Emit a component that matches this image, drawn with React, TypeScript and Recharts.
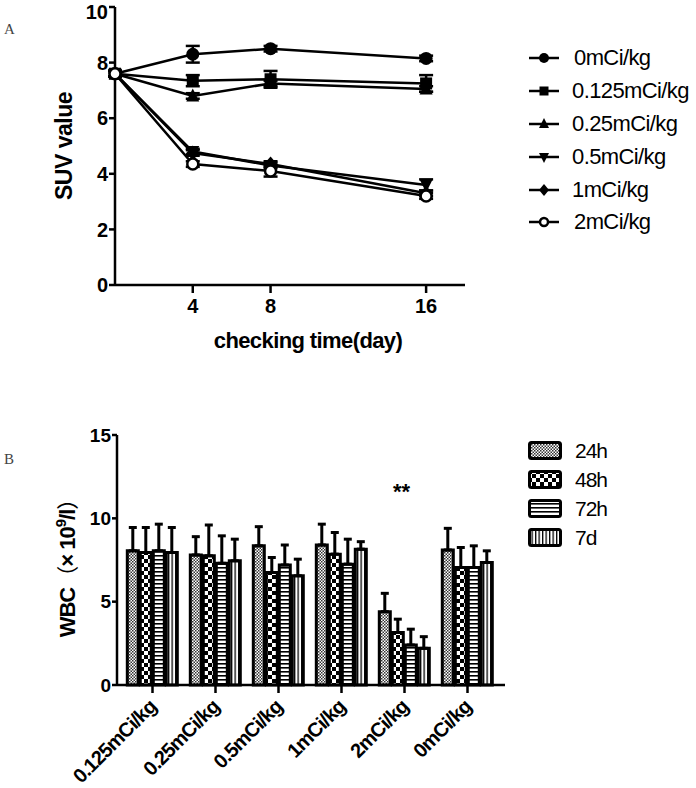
import React from "react";
import {
  LineChart,
  Line,
  XAxis,
  YAxis,
  ErrorBar,
  Legend,
  BarChart,
  Bar,
  ReferenceDot,
} from "recharts";

const FONT = '"Liberation Sans", Arial, sans-serif';

// panel A: SUV over time
const days = [0, 4, 8, 16];
const doseLabels = ["0mCi/kg", "0.125mCi/kg", "0.25mCi/kg", "0.5mCi/kg", "1mCi/kg", "2mCi/kg"];
const doseShapes = ["circle", "square", "triangle", "triangleDown", "diamond", "openCircle"];
const suv0 = [7.6, 8.3, 8.5, 8.15];
const suv0125 = [7.6, 7.35, 7.4, 7.25];
const suv025 = [7.6, 6.8, 7.25, 7.05];
const suv05 = [7.6, 4.8, 4.3, 3.6];
const suv1 = [7.6, 4.75, 4.35, 3.3];
const suv2 = [7.6, 4.35, 4.1, 3.2];
const err0 = [0.1, 0.3, 0.1, 0.1];
const err0125 = [0.1, 0.2, 0.3, 0.3];
const err025 = [0.1, 0.1, 0.1, 0.1];
const err05 = [0.1, 0.1, 0.1, 0.2];
const err1 = [0.1, 0.1, 0.1, 0.1];
const err2 = [0.1, 0.1, 0.2, 0.1];

const suvSeries = [suv0, suv0125, suv025, suv05, suv1, suv2];
const suvErrors = [err0, err0125, err025, err05, err1, err2];

const lineData = days.map((d, i) => {
  const row: Record<string, number> = { day: d };
  suvSeries.forEach((s, k) => {
    row[`s${k}`] = s[i];
    row[`e${k}`] = suvErrors[k][i];
  });
  return row;
});

// panel B: WBC per dose group
const groups = ["0.125mCi/kg", "0.25mCi/kg", "0.5mCi/kg", "1mCi/kg", "2mCi/kg", "0mCi/kg"];
const timeLabels = ["24h", "48h", "72h", "7d"];
const wbc24h = [8.05, 7.8, 8.35, 8.4, 4.4, 8.1];
const wbc48h = [7.95, 7.75, 6.75, 7.85, 3.15, 7.05];
const wbc72h = [8.05, 7.3, 7.2, 7.25, 2.4, 7.05];
const wbc7d = [7.95, 7.45, 6.55, 8.15, 2.2, 7.35];
const sd24h = [1.4, 1.1, 1.15, 1.25, 1.1, 1.3];
const sd48h = [1.5, 1.85, 0.9, 1.3, 0.8, 1.2];
const sd72h = [1.6, 1.65, 1.2, 1.5, 0.95, 1.3];
const sd7d = [1.5, 1.3, 1.0, 0.45, 0.7, 0.7];

const wbcSeries = [wbc24h, wbc48h, wbc72h, wbc7d];
const wbcSd = [sd24h, sd48h, sd72h, sd7d];
const patternIds = ["p24", "p48", "p72", "p7d"];

const barData = groups.map((g, i) => {
  const row: Record<string, any> = { group: g };
  wbcSeries.forEach((s, k) => {
    row[`v${k}`] = s[i];
    row[`sd${k}`] = [0, wbcSd[k][i]];
  });
  return row;
});

function Marker({ shape, cx, cy, s = 6.5 }: { shape: string; cx: number; cy: number; s?: number }) {
  if (shape === "circle") return <circle cx={cx} cy={cy} r={s} fill="#000" />;
  if (shape === "openCircle")
    return <circle cx={cx} cy={cy} r={s - 1} fill="#fff" stroke="#000" strokeWidth={2.5} />;
  if (shape === "square") return <rect x={cx - s + 0.5} y={cy - s + 0.5} width={2 * s - 1} height={2 * s - 1} fill="#000" />;
  if (shape === "triangle")
    return <polygon points={`${cx},${cy - s - 1} ${cx + s},${cy + s - 1} ${cx - s},${cy + s - 1}`} fill="#000" />;
  if (shape === "triangleDown")
    return <polygon points={`${cx},${cy + s + 1} ${cx + s},${cy - s + 1} ${cx - s},${cy - s + 1}`} fill="#000" />;
  return <polygon points={`${cx},${cy - s - 1} ${cx + s},${cy} ${cx},${cy + s + 1} ${cx - s},${cy}`} fill="#000" />;
}

function LineLegend() {
  return (
    <div style={{ fontFamily: FONT, fontSize: 22, color: "#000", letterSpacing: -0.6 }}>
      {doseLabels.map((label, k) => (
        <div key={label} style={{ display: "flex", alignItems: "center", height: 32.8 }}>
          <svg width={32} height={16} style={{ marginRight: 12 }}>
            <line x1={1} y1={8} x2={31} y2={8} stroke="#000" strokeWidth={2.5} />
            <Marker shape={doseShapes[k]} cx={16} cy={8} s={5} />
          </svg>
          <span style={{ marginLeft: k === 0 || k === 5 ? 2 : 0 }}>{label}</span>
        </div>
      ))}
    </div>
  );
}

function BarLegend() {
  return (
    <div style={{ fontFamily: FONT, fontSize: 21, color: "#000", letterSpacing: -1 }}>
      {timeLabels.map((label, k) => (
        <div key={label} style={{ display: "flex", alignItems: "center", height: 29 }}>
          <svg width={34} height={19} style={{ marginRight: 13 }}>
            <rect x={1.5} y={1.5} width={31} height={16} rx={2} fill={`url(#${patternIds[k]})`} stroke="#000" strokeWidth={3} />
          </svg>
          <span>{label}</span>
        </div>
      ))}
    </div>
  );
}

const GroupTick = (props: any) => {
  const { x, y, payload } = props;
  const px = x + 5;
  const py = y + 13;
  return (
    <text
      x={px}
      y={py}
      transform={`rotate(-45 ${px} ${py})`}
      textAnchor="end"
      fontFamily={FONT}
      fontWeight="bold"
      fontSize={20}
      letterSpacing={-0.8}
      fill="#000"
    >
      {payload.value}
    </text>
  );
};

export default function App() {
  const tickStyle = { fontSize: 20, fontWeight: "bold", fill: "#000", fontFamily: FONT };
  return (
    <div style={{ position: "absolute", left: 0, top: 0, width: 696, height: 788, background: "#fff" }}>
      <svg width={0} height={0} style={{ position: "absolute" }}>
        <defs>
          <pattern id="p24" width={3} height={3} patternUnits="userSpaceOnUse">
            <rect width={3} height={3} fill="#fff" />
            <rect width={1.5} height={1.5} fill="#333" />
            <rect x={1.5} y={1.5} width={1.5} height={1.5} fill="#333" />
          </pattern>
          <pattern id="p48" width={8} height={8} patternUnits="userSpaceOnUse">
            <rect width={8} height={8} fill="#fff" />
            <rect width={4} height={4} fill="#000" />
            <rect x={4} y={4} width={4} height={4} fill="#000" />
          </pattern>
          <pattern id="p72" width={4} height={4} patternUnits="userSpaceOnUse">
            <rect width={4} height={4} fill="#fff" />
            <rect width={4} height={1.6} fill="#000" />
          </pattern>
          <pattern id="p7d" width={3.5} height={4} patternUnits="userSpaceOnUse">
            <rect width={3.5} height={4} fill="#fff" />
            <rect width={1.3} height={4} fill="#000" />
          </pattern>
        </defs>
      </svg>

      <div style={{ position: "absolute", left: 4, top: 21, fontFamily: "serif", fontSize: 15, color: "#444" }}>A</div>
      <div style={{ position: "absolute", left: 4, top: 451, fontFamily: "serif", fontSize: 15, color: "#444" }}>B</div>

      <div style={{ position: "absolute", left: 0, top: 0 }}>
        <LineChart width={696} height={375} data={lineData} margin={{ top: 7, right: 231, bottom: 20, left: 55 }}>
          <XAxis
            dataKey="day"
            type="number"
            domain={[0, 18]}
            ticks={[4, 8, 16]}
            height={70}
            axisLine={{ stroke: "#000", strokeWidth: 2.5 }}
            tickLine={{ stroke: "#000", strokeWidth: 2.5 }}
            tickSize={8}
            tickMargin={6}
            tick={tickStyle}
            label={(p: any) => {
              const vb = p.viewBox;
              return (
                <text
                  x={vb.x + vb.width / 2 + 18}
                  y={vb.y + 63}
                  textAnchor="middle"
                  fontFamily={FONT}
                  fontWeight="bold"
                  fontSize={22}
                  letterSpacing={-0.6}
                  fill="#000"
                >
                  checking time(day)
                </text>
              );
            }}
          />
          <YAxis
            type="number"
            domain={[0, 10]}
            ticks={[0, 2, 4, 6, 8, 10]}
            width={60}
            axisLine={{ stroke: "#000", strokeWidth: 2.5 }}
            tickLine={{ stroke: "#000", strokeWidth: 2.5 }}
            tickSize={6}
            tickMargin={1}
            tick={tickStyle}
            label={(p: any) => {
              const vb = p.viewBox;
              const cx = vb.x + 17;
              const cy = vb.y + vb.height / 2;
              return (
                <text
                  x={cx}
                  y={cy}
                  transform={`rotate(-90 ${cx} ${cy})`}
                  textAnchor="middle"
                  fontFamily={FONT}
                  fontWeight="bold"
                  fontSize={23}
                  letterSpacing={-0.5}
                  fill="#000"
                >
                  SUV value
                </text>
              );
            }}
          />
          <Legend
            layout="vertical"
            align="center"
            verticalAlign="middle"
            wrapperStyle={{ left: 528, top: 42, width: 170 }}
            content={() => <LineLegend />}
          />
          {doseLabels.map((label, k) => (
            <Line
              key={label}
              name={label}
              dataKey={`s${k}`}
              type="linear"
              stroke="#000"
              strokeWidth={2.5}
              isAnimationActive={false}
              dot={(p: any) => <Marker key={`${label}-${p.index}`} shape={doseShapes[k]} cx={p.cx} cy={p.cy} />}
              activeDot={false}
            >
              <ErrorBar dataKey={`e${k}`} direction="y" stroke="#000" strokeWidth={2.5} width={7} />
            </Line>
          ))}
        </LineChart>
      </div>

      <div style={{ position: "absolute", left: 0, top: 375 }}>
        <BarChart
          width={696}
          height={413}
          data={barData}
          margin={{ top: 60, right: 191, bottom: 3, left: 57 }}
          barCategoryGap="10%"
          barGap={2}
        >
          <XAxis
            dataKey="group"
            height={100}
            interval={0}
            padding={{ left: 4, right: 6 }}
            axisLine={{ stroke: "#000", strokeWidth: 2.5 }}
            tickLine={{ stroke: "#000", strokeWidth: 2.5 }}
            tickSize={8}
            tick={<GroupTick />}
          />
          <YAxis
            type="number"
            domain={[0, 15]}
            ticks={[0, 5, 10, 15]}
            width={60}
            axisLine={{ stroke: "#000", strokeWidth: 2.5 }}
            tickLine={{ stroke: "#000", strokeWidth: 2.5 }}
            tickSize={5}
            tickMargin={1}
            tick={{ ...tickStyle, fontSize: 19 }}
            label={(p: any) => {
              const vb = p.viewBox;
              const cx = vb.x + 18;
              const cy = vb.y + vb.height / 2 + 3;
              return (
                <text
                  x={cx}
                  y={cy}
                  transform={`rotate(-90 ${cx} ${cy})`}
                  textAnchor="middle"
                  fontFamily={FONT}
                  fontWeight="bold"
                  fontSize={22}
                  letterSpacing={-1}
                  fill="#000"
                >
                  <tspan>WBC</tspan>
                  <tspan fontWeight="normal" fontFamily='"Noto Sans CJK SC", sans-serif'>（</tspan>
                  <tspan>× 10</tspan>
                  <tspan fontSize={15} dy={-9}>9</tspan>
                  <tspan dy={9}>/l</tspan>
                  <tspan fontWeight="normal" fontFamily='"Noto Sans CJK SC", sans-serif'>）</tspan>
                </text>
              );
            }}
          />
          <Legend
            layout="vertical"
            align="center"
            verticalAlign="middle"
            wrapperStyle={{ left: 528, top: 61, width: 160 }}
            content={() => <BarLegend />}
          />
          {timeLabels.map((label, k) => (
            <Bar
              key={label}
              name={label}
              dataKey={`v${k}`}
              fill={`url(#${patternIds[k]})`}
              stroke="#000"
              strokeWidth={3}
              isAnimationActive={false}
            >
              <ErrorBar dataKey={`sd${k}`} direction="y" stroke="#000" strokeWidth={3} width={4} />
            </Bar>
          ))}
          <ReferenceDot
            x="2mCi/kg"
            y={11.6}
            r={2}
            fill="none"
            stroke="none"
            label={{ value: "**", position: "center", fontSize: 22, fontWeight: "bold", fill: "#000", fontFamily: FONT, dx: -3 }}
          />
        </BarChart>
      </div>
    </div>
  );
}
